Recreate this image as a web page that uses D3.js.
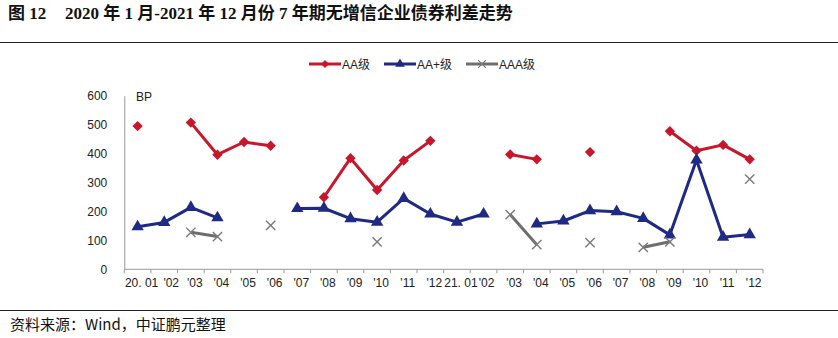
<!DOCTYPE html>
<html>
<head>
<meta charset="utf-8">
<script src="https://cdn.jsdelivr.net/npm/d3@7"></script>
<style>
  html, body { margin: 0; padding: 0; background: #fff; }
  svg { display: block; }
</style>
</head>
<body>
<svg id="chart" width="838" height="338"></svg>
<script>
// Months Jan 2020 – Dec 2021
const months = ["20. 01", "'02", "'03", "'04", "'05", "'06", "'07", "'08", "'09", "'10", "'11", "'12",
                "21. 01", "'02", "'03", "'04", "'05", "'06", "'07", "'08", "'09", "'10", "'11", "'12"];

// 7-year spreads (BP); null = no issuance that month
const aa      = [495, null, 507, 396, 440, 427, null, 249, 384, 274, 376, 444,
                 null, null, 397, 380, null, 405, null, null, 477, 410, 430, 380];
const aaPlus  = [147, 162, 214, 178, null, null, 210, 211, 175, 163, 245, 191,
                 163, 191, null, 157, 167, 203, 199, 176, 119, 378, 111, 120];
const aaa     = [null, null, 128, 113, null, 152, null, null, null, 95, null, null,
                 null, null, 189, 85, null, 92, null, 76, 95, null, null, 312];

const yTicks = [0, 100, 200, 300, 400, 500, 600];
const seriesNames = ["AA级", "AA+级", "AAA级"];

const svg = d3.select("#chart");
const latin = "'Liberation Sans', Arial, 'Noto Sans CJK SC', sans-serif";
const serif = "'Liberation Serif', 'Times New Roman', 'Noto Sans CJK SC', serif";

// Title and rules
svg.append("text").attr("x", 8).attr("y", 19)
  .attr("font-family", serif).attr("font-weight", "bold").attr("font-size", 17)
  .attr("fill", "#111").text("图 12");
svg.append("text").attr("x", 65).attr("y", 19)
  .attr("font-family", serif).attr("font-weight", "bold").attr("font-size", 17)
  .attr("fill", "#111").text("2020 年 1 月-2021 年 12 月份 7 年期无增信企业债券利差走势");
svg.append("line").attr("x1", 0).attr("x2", 838).attr("y1", 42.5).attr("y2", 42.5)
  .attr("stroke", "#222").attr("stroke-width", 1.2);
svg.append("line").attr("x1", 0).attr("x2", 838).attr("y1", 310.5).attr("y2", 310.5)
  .attr("stroke", "#222").attr("stroke-width", 1.2);
svg.append("text").attr("x", 10).attr("y", 330)
  .attr("font-family", "'Noto Sans CJK SC', sans-serif").attr("font-size", 15)
  .attr("fill", "#111").text("资料来源：Wind，中证鹏元整理");

// Scales
const idx = d3.range(months.length);
const x = d3.scaleBand().domain(idx).range([124.3, 763]).padding(0);
const y = d3.scaleLinear().domain([0, 600]).range([269.3, 95.7]);
const cx = i => x(i) + x.bandwidth() / 2;

// Y axis
const yAxis = svg.append("g").attr("transform", `translate(${x.range()[0]},0)`)
  .call(d3.axisLeft(y).tickValues(yTicks).tickSize(0).tickPadding(17));
yAxis.select(".domain").attr("stroke", "#9a9a9a");
yAxis.selectAll("text").attr("font-family", latin).attr("font-size", 12).attr("fill", "#222");

svg.append("text").attr("x", 136).attr("y", 101)
  .attr("font-family", latin).attr("font-size", 12).attr("fill", "#222").text("BP");

// X axis: ticks at band boundaries
const xAxis = svg.append("g").attr("transform", `translate(0,${y(0)})`);
xAxis.append("line").attr("x1", x.range()[0]).attr("x2", x.range()[1])
  .attr("stroke", "#9a9a9a");
xAxis.selectAll("line.tk").data(idx.concat([months.length])).join("line")
  .attr("class", "tk")
  .attr("x1", i => i < months.length ? x(i) : x.range()[1])
  .attr("x2", i => i < months.length ? x(i) : x.range()[1])
  .attr("y1", 0).attr("y2", 4).attr("stroke", "#9a9a9a");
xAxis.selectAll("text").data(idx).join("text")
  .attr("x", i => cx(i) + (i === 1 ? 7 : (i === 13 ? 3 : 4)))
  .attr("y", 18)
  .attr("text-anchor", "middle")
  .attr("font-family", latin).attr("font-size", 12).attr("fill", "#222")
  .text(i => months[i]);

// Series
const red = "#C8162A", blue = "#1F2A84", grey = "#6E6E6E";
const line = d3.line().defined(d => d != null).x((d, i) => cx(i)).y(d => y(d));

function drawLine(data, color) {
  svg.append("path").datum(data).attr("fill", "none")
    .attr("stroke", color).attr("stroke-width", 3).attr("stroke-linejoin", "round")
    .attr("d", line);
}
drawLine(aa, red);
drawLine(aaPlus, blue);
drawLine(aaa, grey);

const diamond = d3.symbol().type(d3.symbolDiamond2).size(68);
const triangle = d3.symbol().type(d3.symbolTriangle).size(66);
const cross = d3.symbol().type(d3.symbolX).size(58);

function markers(data, sym, color, isCross) {
  svg.append("g").selectAll("path")
    .data(data.map((v, i) => ({ v, i })).filter(d => d.v != null))
    .join("path")
    .attr("transform", d => `translate(${cx(d.i)},${y(d.v)})`)
    .attr("d", sym)
    .attr("fill", isCross ? "none" : color)
    .attr("stroke", isCross ? "#7a7a7a" : "none")
    .attr("stroke-width", isCross ? 1.4 : 0);
}
markers(aa, diamond, red, false);
markers(aaPlus, triangle, blue, false);
markers(aaa, cross, grey, true);

// Legend
const legend = [
  { name: seriesNames[0], color: red, type: d3.symbolDiamond2, x0: 309, cross: false },
  { name: seriesNames[1], color: blue, type: d3.symbolTriangle, x0: 384, cross: false },
  { name: seriesNames[2], color: grey, type: d3.symbolX, x0: 466, cross: true }
];
const lg = svg.append("g").selectAll("g").data(legend).join("g")
  .attr("transform", d => `translate(${d.x0},64)`);
lg.append("line").attr("x1", 0).attr("x2", 32).attr("stroke", d => d.color).attr("stroke-width", 3);
lg.append("path").attr("transform", "translate(16,0)")
  .attr("d", d => d3.symbol().type(d.type).size(40)())
  .attr("fill", d => d.cross ? "none" : d.color)
  .attr("stroke", d => d.cross ? "#7a7a7a" : "none").attr("stroke-width", 1.2);
lg.append("text").attr("x", 33).attr("y", 4.5)
  .attr("font-family", latin).attr("font-size", 12).attr("fill", "#222")
  .text(d => d.name);
</script>
</body>
</html>
